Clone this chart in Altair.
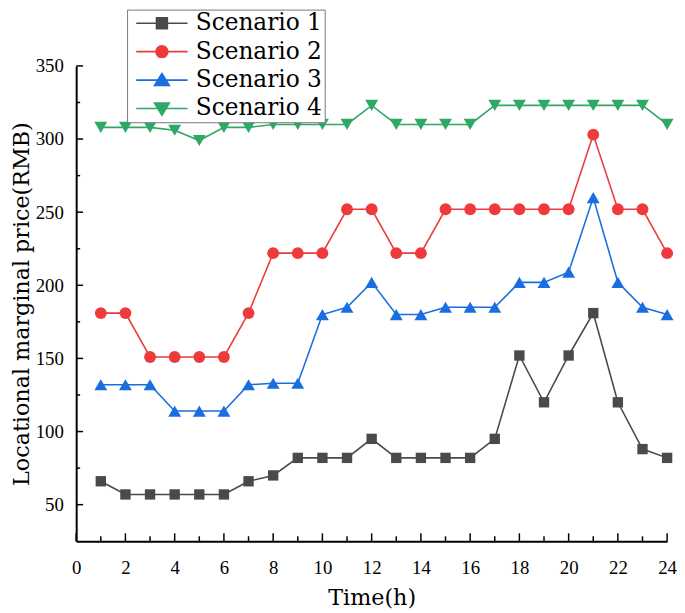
import altair as alt
import pandas as pd

hours = list(range(1, 25))
scenarios = ["Scenario 1", "Scenario 2", "Scenario 3", "Scenario 4"]
s1 = [66, 57, 57, 57, 57, 57, 66, 70, 82, 82, 82, 95, 82, 82, 82, 82, 95, 152, 120, 152, 181, 120, 88, 82]
s2 = [181, 181, 151, 151, 151, 151, 181, 222, 222, 222, 252, 252, 222, 222, 252, 252, 252, 252, 252, 252, 303, 252, 252, 222]
s3 = [132, 132, 132, 114, 114, 114, 132, 133, 133, 180, 185, 202, 180, 180, 185, 185, 185, 202, 202, 209, 260, 202, 185, 180]
s4 = [308, 308, 308, 306, 299, 308, 308, 310, 310, 310, 310, 323, 310, 310, 310, 310, 323, 323, 323, 323, 323, 323, 323, 310]

colors = ["#4a4a4a", "#ee3a3a", "#1a6ee0", "#2ea866"]
marker_shapes = ["square", "circle", "triangle-up", "triangle-down"]
marker_sizes = [110, 144, 170, 170]
legend_shapes = [
    "M-5.2,0H5.2M-1.1,-1.1H1.1V1.1H-1.1Z",
    "M-5.2,0H5.2M-1.2,0A1.2,1.2,0,1,1,1.2,0A1.2,1.2,0,1,1,-1.2,0Z",
    "M-5.2,0H5.2M0,-1.35L1.5,1.1L-1.5,1.1Z",
    "M-5.2,0H5.2M0,1.35L1.5,-1.1L-1.5,-1.1Z",
]

x_major = list(range(0, 25, 2))
x_minor = list(range(1, 24, 2))
y_major = [50, 100, 150, 200, 250, 300, 350]
y_minor = [75, 125, 175, 225, 275, 325]

rows = []
for name, vals in zip(scenarios, [s1, s2, s3, s4]):
    for h, v in zip(hours, vals):
        rows.append({"hour": h, "price": v, "scenario": name})
df = pd.DataFrame(rows)

W, H = 598, 481
xscale = alt.Scale(domain=[0, 24], nice=False, zero=False)
yscale = alt.Scale(domain=[25, 350], nice=False, zero=False)
x_axis = alt.Axis(values=x_major, title="Time(h)", labelPadding=18, titlePadding=9,
                  format="d", labelFlush=False)
y_axis = alt.Axis(values=y_major, title="Locational marginal price(RMB)", labelPadding=13,
                  titlePadding=2, labelFlush=False)


def X(field):
    return alt.X(field, scale=xscale, axis=x_axis)


def Y(field):
    return alt.Y(field, scale=yscale, axis=y_axis)


color_scale = alt.Scale(domain=scenarios, range=colors)

leg = alt.Legend(
    title=None, orient="none", legendX=51.5, legendY=-57,
    labelFont="DejaVu Serif", labelFontSize=23.5, labelColor="black",
    labelExpr="datum.label",
    symbolSize=100, symbolOffset=21.5, labelOffset=22.5, symbolStrokeWidth=1.6,
    symbolStrokeColor={"expr": "scale('color', datum.value)"},
    symbolOpacity=1,
    rowPadding=3.8, padding=2, strokeColor="#777777", fillColor="white",
)

base = alt.Chart(df)
legend_layer = base.mark_point(filled=True, opacity=1, size=0, strokeWidth=0).encode(
    x=X("hour:Q"),
    y=Y("price:Q"),
    color=alt.Color("scenario:N", scale=color_scale, legend=leg),
    shape=alt.Shape("scenario:N", scale=alt.Scale(domain=scenarios, range=legend_shapes), legend=leg),
)

lines = base.mark_line(strokeWidth=1.6).encode(
    x=X("hour:Q"), y=Y("price:Q"), color=alt.Color("scenario:N", scale=color_scale))

point_layers = []
for name, shp, sz in zip(scenarios, marker_shapes, marker_sizes):
    point_layers.append(
        base.transform_filter(alt.datum.scenario == name)
        .mark_point(filled=True, opacity=1, shape=shp, size=sz)
        .encode(x=X("hour:Q"), y=Y("price:Q"),
                color=alt.Color("scenario:N", scale=color_scale))
    )

xt_major = pd.DataFrame({"v": x_major})
xt_minor = pd.DataFrame({"v": x_minor})
yt_major = pd.DataFrame({"v": y_major})
yt_minor = pd.DataFrame({"v": y_minor})


def xticks(d, ln):
    return alt.Chart(d).mark_rule(color="black", strokeWidth=1.5).encode(
        x=X("v:Q"), y=alt.value(H), y2=alt.value(H - ln))


def yticks(d, ln):
    return alt.Chart(d).mark_rule(color="black", strokeWidth=1.5).encode(
        y=Y("v:Q"), x=alt.value(0), x2=alt.value(ln))


chart = alt.layer(
    legend_layer, lines, *point_layers,
    xticks(xt_major, 8), xticks(xt_minor, 5), yticks(yt_major, 7), yticks(yt_minor, 4),
).properties(
    width=W, height=H, padding={"left": 2, "top": -3, "right": 0, "bottom": 0},
).configure_view(stroke=None).configure_axis(
    grid=False, ticks=False, domainColor="black", domainWidth=2,
    labelFont="Liberation Serif", labelFontSize=19, labelColor="black",
    titleFont="DejaVu Serif", titleFontSize=22.5, titleFontWeight="normal", titleColor="black",
)

chart.save("out.html", embed_options={"renderer": "svg", "actions": False})
